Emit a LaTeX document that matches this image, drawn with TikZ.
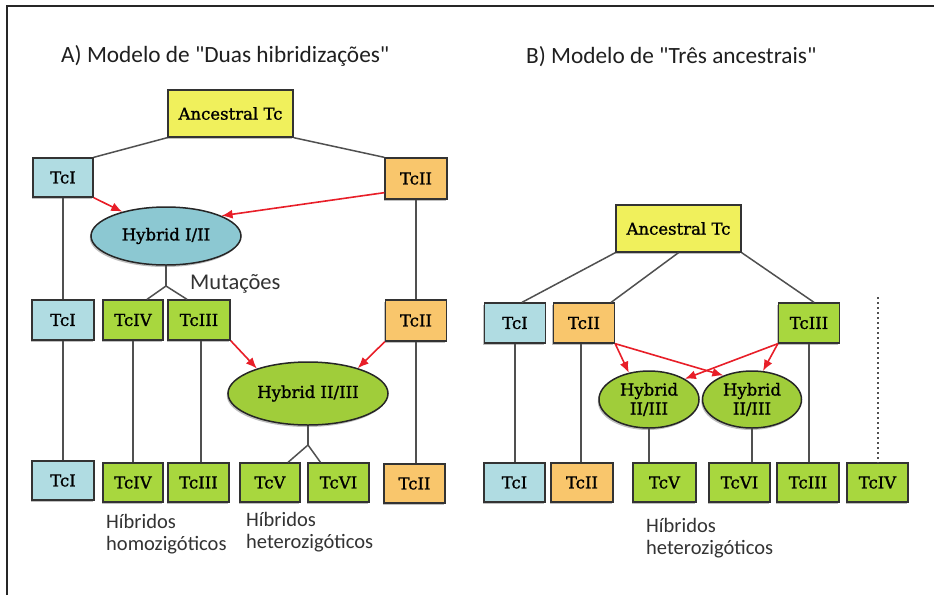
\documentclass[tikz,border=0pt]{standalone}
\usepackage{fontspec}
\setmainfont{Carlito}[Ligatures=TeXOff]
\newfontfamily\boxfont{DejaVu Serif}[FakeBold=1.2]
\usetikzlibrary{shapes.geometric,arrows.meta,shadows}
\definecolor{cyel}{RGB}{240,240,92}
\definecolor{cblue}{RGB}{176,220,226}
\definecolor{corange}{RGB}{249,198,108}
\definecolor{cgreen}{RGB}{168,215,62}
\definecolor{cteal}{RGB}{140,200,210}
\definecolor{cgell}{RGB}{160,205,58}
\definecolor{cred}{RGB}{232,30,40}
\definecolor{cline}{RGB}{80,80,80}
\begin{document}
\begin{tikzpicture}[x=1pt,y=-1pt,
  sz/.style 2 args={minimum width=#1pt,minimum height=#2pt},
  shade/.style={drop shadow={shadow xshift=-1.2pt,shadow yshift=-2pt,fill=black!50,opacity=.5}},
  box/.style={draw=black!80,line width=1.3pt,inner sep=0pt,text=black,
    font=\boxfont\fontsize{16.5}{18}\selectfont,shade},
  yelbox/.style={box,fill=cyel},
  bluebox/.style={box,fill=cblue},
  orbox/.style={box,fill=corange},
  grbox/.style={box,fill=cgreen},
  hyb/.style={ellipse,draw=black!85,line width=1.5pt,inner sep=0pt,text=black,align=center,
    font=\boxfont\fontsize{16.5}{19}\selectfont,shade},
  link/.style={draw=cline,line width=1.5pt},
  redarr/.style={draw=cred,line width=1.6pt,-{Latex[length=11pt,width=9pt]}},
  ttl/.style={font=\fontsize{23.3}{26}\selectfont,text=black!88,inner sep=0pt},
  lbl/.style={font=\fontsize{20.5}{22}\selectfont,text=black!80,inner sep=0pt,align=left},
  dotline/.style={draw=cline,line width=1.6pt,dash pattern=on 1.5pt off 3.5pt}
]
\useasboundingbox (0,0) rectangle (934,595);
\fill[white] (0,0) rectangle (934,595);
% frame
\draw[line width=2pt,black!85] (7,595) -- (7,6) -- (934,6);

% ---------- Panel A ----------
\node[ttl,anchor=base west] (tA) at (61,62) {A) Modelo de "Duas hibridizações"};
\node[yelbox,sz={125}{47}] (ancA) at (230.5,113.5) {Ancestral Tc};
\node[bluebox,sz={60}{39}] (a1I) at (63,177.5) {TcI};
\node[orbox,sz={62}{41}] (a1II) at (416,178.5) {TcII};
\node[hyb,fill=cteal,sz={150}{58}] (hA) at (166,236) {Hybrid I/II};
\node[lbl,anchor=base west,font=\fontsize{22.5}{24}\selectfont] (mut) at (190,289) {Mutações};
\node[bluebox,sz={62}{40}] (a2I) at (63,320) {TcI};
\node[grbox,sz={60}{40}] (a2IV) at (133,320) {TcIV};
\node[grbox,sz={62}{40}] (a2III) at (199,320) {TcIII};
\node[orbox,sz={61}{41}] (a2II) at (416,320.5) {TcII};
\node[hyb,fill=cgell,sz={160}{63}] (hB) at (308,393.5) {Hybrid II/III};
\node[bluebox,sz={62}{39}] (a3I) at (63,480.5) {TcI};
\node[grbox,sz={60}{39}] (a3IV) at (133,482.5) {TcIV};
\node[grbox,sz={61}{39}] (a3III) at (198.5,482.5) {TcIII};
\node[grbox,sz={60}{39}] (a3V) at (270,482.5) {TcV};
\node[grbox,sz={61}{39}] (a3VI) at (338.5,482.5) {TcVI};
\node[orbox,sz={61}{39}] (a3II) at (414.5,483.5) {TcII};
\node[lbl,anchor=north west] (homo) at (106,514) {Híbridos\\homozigóticos};
\node[lbl,anchor=north west] (hetA) at (246,512) {Híbridos\\heterozigóticos};

\draw[link] (ancA.south west) -- (a1I.north east);
\draw[link] (ancA.south east) -- (a1II.north west);
\draw[link] (a1I.south) -- (a2I.north);
\draw[link] (a2I.south) -- (a2I.south |- a3I.north);
\draw[link] (a1II.south) -- (a1II.south |- a2II.north);
\draw[link] (a2II.south) -- (a2II.south |- a3II.north);
\draw[link] (a2IV.south) -- (a2IV.south |- a3IV.north);
\draw[link] ([xshift=2pt]a2III.south) -- ([xshift=2pt]a2III.south |- a3III.north);
\coordinate (mA) at (166,286);
\draw[link] (hA.south) -- (mA);
\draw[link] (mA) -- ([xshift=14pt]a2IV.north);
\draw[link] (mA) -- ([xshift=-12pt]a2III.north);
\coordinate (mB) at (308,445);
\draw[link] (hB.south) -- (mB);
\draw[link] (mB) -- ([xshift=18pt]a3V.north);
\draw[link] (mB) -- ([xshift=-18pt]a3VI.north);

\draw[redarr] (a1I.south east) -- (hA.151);
\draw[redarr] ([yshift=7pt]a1II.south west) -- (hA.20);
\draw[redarr] (a2III.south east) -- (hB.154);
\draw[redarr] (a2II.south west) -- (hB.27);

% ---------- Panel B ----------
\node[ttl,anchor=base west] (tB) at (526,63) {B) Modelo de "Três ancestrais"};
\node[yelbox,sz={125}{47}] (ancB) at (678.5,228.5) {Ancestral Tc};
\node[bluebox,sz={61}{40}] (b1I) at (515,323) {TcI};
\node[orbox,sz={61}{40}] (b1II) at (584,323) {TcII};
\node[grbox,sz={61}{40}] (b1III) at (809,323) {TcIII};
\node[hyb,fill=cgell,sz={100}{57}] (hL) at (649,399.5) {Hybrid\\II/III};
\node[hyb,fill=cgell,sz={99}{57}] (hR) at (752,399.5) {Hybrid\\II/III};
\node[bluebox,sz={61}{39}] (b3I) at (514.5,482.5) {TcI};
\node[orbox,sz={62}{39}] (b3II) at (582,482.5) {TcII};
\node[grbox,sz={63}{39}] (b3V) at (664.5,482.5) {TcV};
\node[grbox,sz={61}{39}] (b3VI) at (739.5,482.5) {TcVI};
\node[grbox,sz={62}{39}] (b3III) at (808,482.5) {TcIII};
\node[grbox,sz={61}{39}] (b3IV) at (877.5,482.5) {TcIV};
\node[lbl,anchor=north west] (hetB) at (646,518) {Híbridos\\heterozigóticos};

\draw[link] (ancB.south west) -- ([xshift=7pt]b1I.north);
\draw[link] (ancB.south) -- ([xshift=-4pt]b1II.north east);
\draw[link] (ancB.south east) -- ([xshift=5pt]b1III.north);
\draw[link] (b1I.south) -- (b1I.south |- b3I.north);
\draw[link] ([xshift=-3pt]b1II.south) -- ([xshift=-3pt]b1II.south |- b3II.north);
\draw[link] (b1III.south) -- (b1III.south |- b3III.north);
\draw[link] (hL.south) -- (hL.south |- b3V.north);
\draw[link] (hR.south) -- (hR.south |- b3VI.north);
\coordinate (dtop) at (878,297);
\draw[dotline] (dtop) -- (dtop |- b3IV.north);

\draw[redarr] (b1II.south east) -- (hL.127);
\draw[redarr] (b1II.south east) -- (hR.140);
\draw[redarr] (b1III.south west) -- (hL.30);
\draw[redarr] (b1III.south west) -- (hR.69);
\end{tikzpicture}
\end{document}
